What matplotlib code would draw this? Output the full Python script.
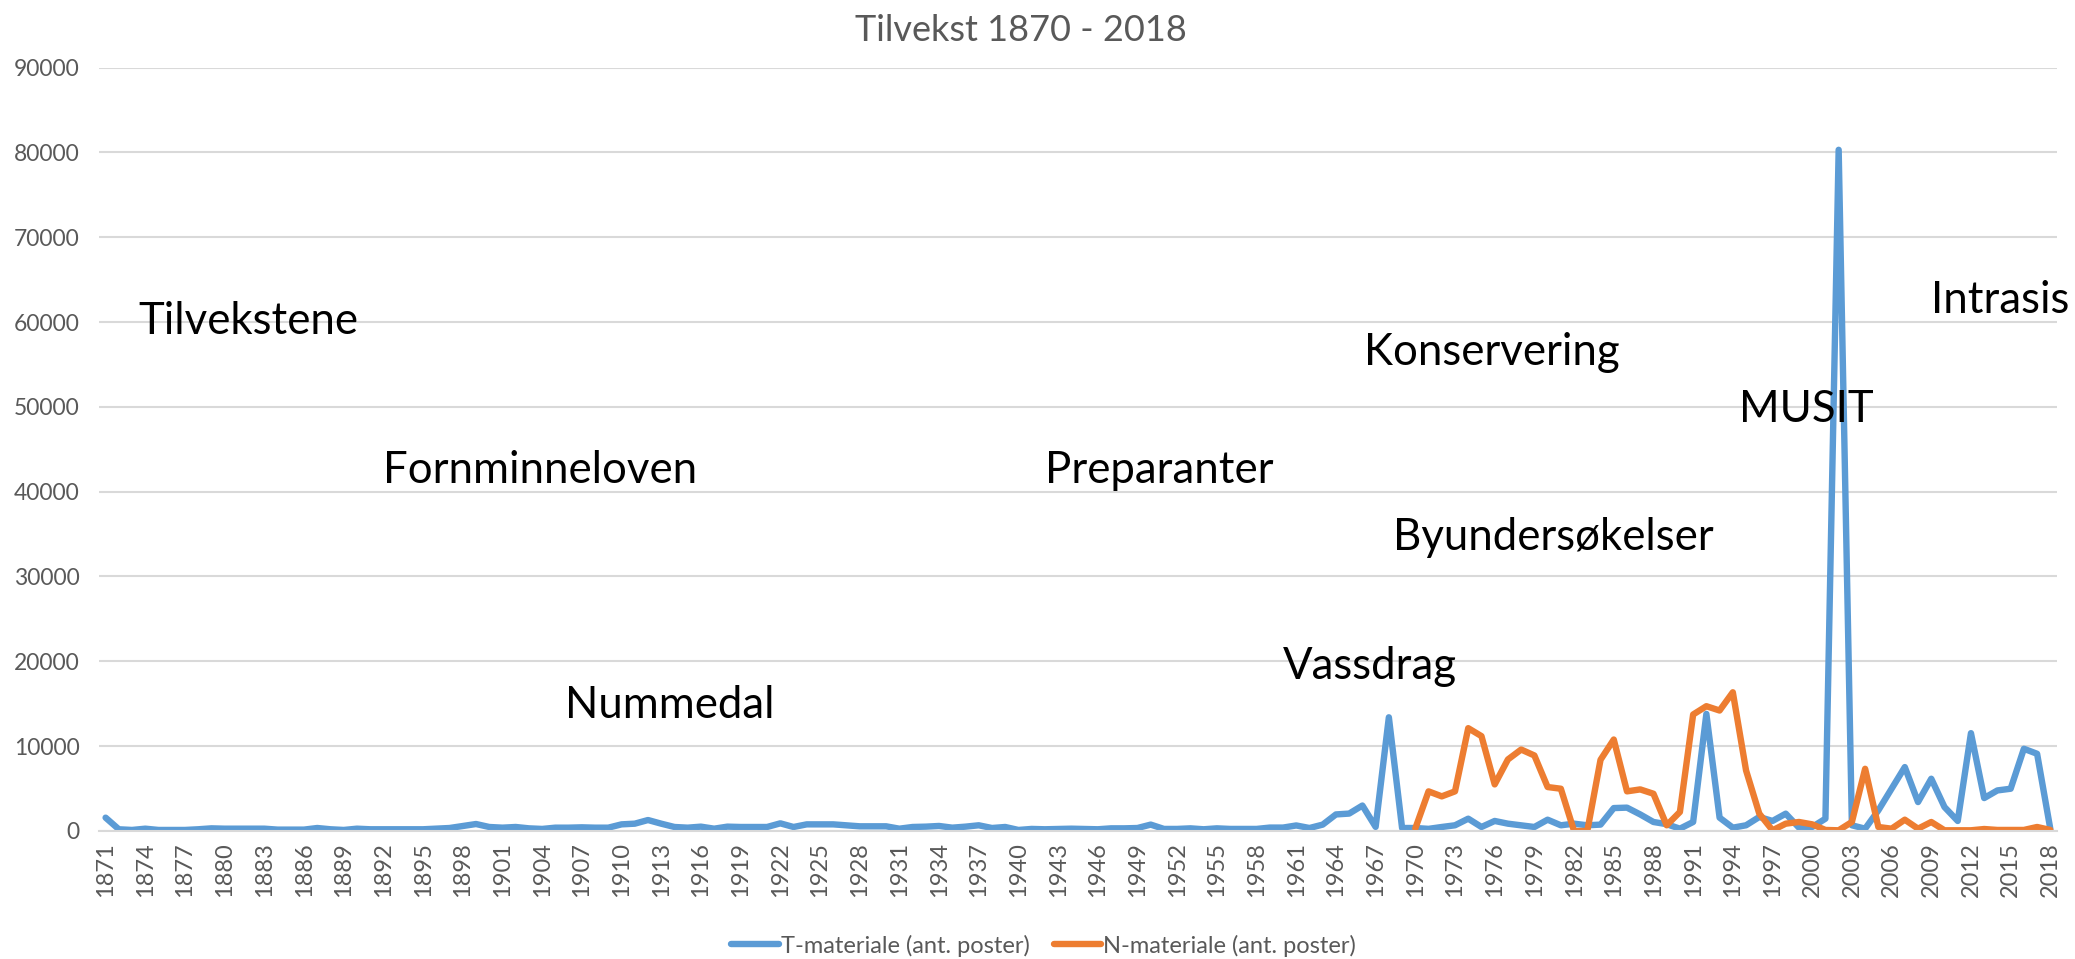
import numpy as np
import matplotlib
matplotlib.use('Agg')
import matplotlib.pyplot as plt

plt.rcParams['font.family'] = ['Lato', 'DejaVu Sans']

years = list(range(1871, 2019))

# T-materiale (ant. poster), 1871 - 2018
t_materiale = [
    1570, 200, 120, 270, 120, 120, 120, 200, 310, 270,      # 1871-1880
    270, 270, 270, 160, 160, 160, 350, 200, 120, 270,       # 1881-1890
    200, 200, 200, 200, 200, 270, 350, 590, 820, 470,       # 1891-1900
    390, 470, 310, 240, 390, 390, 430, 390, 390, 780,       # 1901-1910
    860, 1290, 860, 470, 390, 510, 270, 510, 470, 470,      # 1911-1920
    470, 900, 470, 780, 780, 780, 670, 550, 550, 550,       # 1921-1930
    270, 470, 510, 590, 390, 510, 670, 350, 470, 120,       # 1931-1940
    240, 200, 240, 270, 240, 200, 310, 310, 350, 750,       # 1941-1950
    240, 240, 310, 200, 310, 240, 240, 240, 400, 400,       # 1951-1960
    650, 350, 750, 1950, 2050, 3000, 480, 13400, 350, 350,  # 1961-1970
    250, 470, 670, 1450, 470, 1180, 860, 670, 470, 1330,    # 1971-1980
    670, 860, 670, 750, 2700, 2750, 1950, 1060, 800, 270,   # 1981-1990
    1060, 13800, 1570, 390, 670, 1650, 1180, 2040, 390, 470,  # 1991-2000
    1450, 80300, 670, 270, 2430, 4980, 7530, 3410, 6160, 2820,  # 2001-2010
    1180, 11530, 3880, 4780, 4980, 9690, 9100, 230,         # 2011-2018
]

# N-materiale (ant. poster), 1970 - 2018
n_years = list(range(1970, 2019))
n_materiale = [
    300, 4670, 4080, 4670, 12120, 11180, 5490, 8430, 9600, 8900,
    5180, 4980, 0, 0, 8390, 10780, 4670, 4900, 4390, 670,
    2240, 13730, 14710, 14200, 16350, 7140, 2040, 80, 860, 1060,
    780, 120, 80, 1060, 7330, 470, 270, 1330, 270, 1060,
    80, 80, 80, 230, 120, 120, 120, 470, 120,
]

# tekstbokser: (tekst, aar, verdi)
notes = [
    ('Tilvekstene', 1873.45, 60100),
    ('Fornminneloven', 1892.0, 42500),
    ('Nummedal', 1905.7, 14800),
    ('Preparanter', 1942.0, 42500),
    ('Konservering', 1966.1, 56350),
    ('Byundersøkelser', 1968.3, 34600),
    ('Vassdrag', 1960.0, 19400),
    ('MUSIT', 1994.5, 49650),
    ('Intrasis', 2009.0, 62500),
]

gray = '#595959'

fig = plt.figure(figsize=(20.75, 9.59), dpi=100)
ax = fig.add_axes([0.0477, 0.1335, 0.9436, 0.7961])

ax.plot(years, t_materiale, color='#5B9BD5', lw=4.6, solid_joinstyle='round',
        solid_capstyle='round', label='T-materiale (ant. poster)')
ax.plot(n_years, n_materiale, color='#ED7D31', lw=4.6, solid_joinstyle='round',
        solid_capstyle='round', label='N-materiale (ant. poster)')

ax.set_xlim(1870.5, 2018.5)
ax.set_ylim(0, 90000)
ax.set_yticks(np.arange(0, 90001, 10000))
ax.set_xticks(years[::3])
ax.set_xticklabels([str(y) for y in years[::3]], rotation=90)
ax.tick_params(axis='both', length=0, colors=gray)
ax.tick_params(axis='y', pad=14, labelsize=16.5)
ax.tick_params(axis='x', pad=8, labelsize=17)
ax.grid(axis='y', color='#d9d9d9', lw=1.5)
ax.set_axisbelow(True)
for s in ['top', 'right', 'left']:
    ax.spines[s].set_visible(False)
ax.spines['bottom'].set_color('#d9d9d9')
ax.spines['bottom'].set_linewidth(1.5)

for txt, x, y in notes:
    ax.text(x, y, txt, fontsize=31.5, color='black', ha='left', va='center', clip_on=False)

fig.text(0.492, 0.968, 'Tilvekst 1870 - 2018', ha='center', va='center', fontsize=26, color=gray)

fig.legend(loc='center', bbox_to_anchor=(0.503, 0.014), ncol=2, frameon=False,
           fontsize=17, labelcolor=gray, handlelength=2.0, columnspacing=1.0, handletextpad=0.1)

fig.savefig('out.png', dpi=100)
